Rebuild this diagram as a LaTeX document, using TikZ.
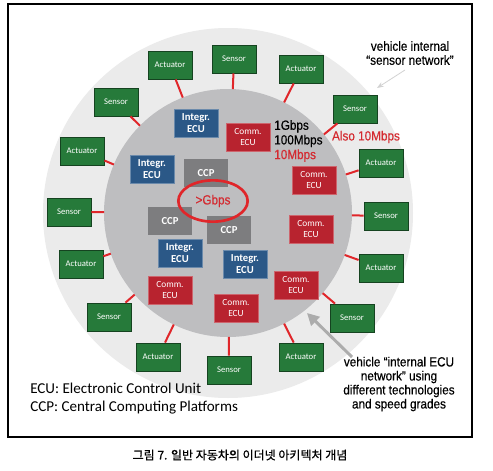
\documentclass[tikz,border=0pt]{standalone}
\usepackage{fontspec}
\usepackage{tikz}
\usetikzlibrary{calc,shapes.geometric,arrows.meta}
\newfontfamily\boxfont{Carlito}
\newfontfamily\notefont{Liberation Sans}[FakeStretch=0.88, FakeBold=0.4]
\newfontfamily\krfont{Noto Sans CJK KR}[FakeBold=0.6]
\definecolor{sensgreen}{HTML}{267A3A}
\definecolor{integblue}{HTML}{2B5887}
\definecolor{commred}{HTML}{B8232F}
\definecolor{ccpgray}{HTML}{7D7D7F}
\definecolor{ringgray}{HTML}{EBEBEB}
\definecolor{coregray}{HTML}{BEBEC0}
\definecolor{linkred}{HTML}{E0262A}
\definecolor{notered}{HTML}{D42A30}
\tikzstyle{unit} = [minimum width=33pt, minimum height=21pt, inner sep=0pt, text=white, align=center]
\tikzstyle{field} = [unit, fill=sensgreen, draw=sensgreen!55!black, line width=0.6pt, font=\boxfont\fontsize{6.5}{7.5}\selectfont]
\tikzstyle{integ} = [unit, fill=integblue, draw=integblue!70!white, line width=0.4pt, font=\boxfont\bfseries\fontsize{8}{8.5}\selectfont]
\tikzstyle{comm} = [unit, fill=commred, draw=commred!70!white, line width=0.4pt, font=\boxfont\fontsize{7}{8.5}\selectfont]
\tikzstyle{ccp} = [unit, fill=ccpgray, font=\boxfont\bfseries\fontsize{8}{8.5}\selectfont]
\tikzstyle{link} = [draw=linkred, line width=1.5pt]
\tikzstyle{note} = [align=center, inner sep=0pt, font=\notefont\fontsize{10}{10.5}\selectfont]
\tikzstyle{legend} = [anchor=base west, inner sep=0pt, font=\boxfont\fontsize{11.3}{13.5}\selectfont]

\begin{document}
\begin{tikzpicture}[x=0.75pt, y=-0.75pt]
\path[use as bounding box, fill=white] (0,0) rectangle (493,471);
\draw[line width=0.8pt] (8,4) rectangle (472,437);

\coordinate (hub) at (228,213);
\fill[ringgray] (hub) circle [radius=185];
\fill[coregray] (hub) circle [radius=124];

% sensor network ring
\node[field] (a1) at (170,65) {Actuator}; \node[field] (s1) at (234,59) {Sensor};
\node[field] (a2) at (301,69) {Actuator}; \node[field] (s2) at (355,109) {Sensor};
\node[field] (a3) at (381,163) {Actuator}; \node[field] (s3) at (386,216) {Sensor};
\node[field] (a4) at (381,268) {Actuator}; \node[field] (s4) at (352,318) {Sensor};
\node[field] (a5) at (301,357) {Actuator}; \node[field] (s5) at (229,370) {Sensor};
\node[field] (a6) at (158,357) {Actuator}; \node[field] (s6) at (109,317) {Sensor};
\node[field] (a7) at (81,264) {Actuator}; \node[field] (s7) at (69,212) {Sensor};
\node[field] (a8) at (82,151) {Actuator}; \node[field] (s8) at (116,102) {Sensor};

\draw[link] (a1) -- ($(hub)!93pt!(a1)$); \draw[link] (s1) -- ($(hub)!93pt!(s1)$);
\draw[link] (a2) -- ($(hub)!93pt!(a2)$); \draw[link] (s2) -- ($(hub)!93pt!(s2)$);
\draw[link] (a3) -- ($(hub)!93pt!(a3)$); \draw[link] (s3) -- ($(hub)!93pt!(s3)$);
\draw[link] (a4) -- ($(hub)!93pt!(a4)$); \draw[link] (s4) -- ($(hub)!93pt!(s4)$);
\draw[link] (a5) -- ($(hub)!93pt!(a5)$); \draw[link] (s5) -- ($(hub)!93pt!(s5)$);
\draw[link] (a6) -- ($(hub)!93pt!(a6)$); \draw[link] (s6) -- ($(hub)!93pt!(s6)$);
\draw[link] (a7) -- ($(hub)!93pt!(a7)$); \draw[link] (s7) -- ($(hub)!93pt!(s7)$);
\draw[link] (a8) -- ($(hub)!93pt!(a8)$); \draw[link] (s8) -- ($(hub)!93pt!(s8)$);

% ECU network core
\node[integ] (i1) at (196,123) {Integr.\\ECU}; \node[integ] (i2) at (152,169) {Integr.\\ECU};
\node[integ] (i3) at (180,253) {Integr.\\ECU}; \node[integ] (i4) at (245,264) {Integr.\\ECU};
\node[ccp] (c1) at (206,173) {CCP}; \node[ccp] (c2) at (170,221) {CCP}; \node[ccp] (c3) at (229,230) {CCP};
\node[comm] (m1) at (248,137) {Comm.\\ECU}; \node[comm] (m2) at (314,180) {Comm.\\ECU};
\node[comm] (m3) at (311,229) {Comm.\\ECU}; \node[comm] (m4) at (296,285) {Comm.\\ECU};
\node[comm] (m5) at (236,308) {Comm.\\ECU}; \node[comm] (m6) at (170,290) {Comm.\\ECU};

\node[ellipse, draw=linkred, line width=2pt, minimum width=52pt, minimum height=31pt, inner sep=0pt,
  text=notered, font=\notefont\fontsize{10}{10}\selectfont] (gbps) at (213,201) {>Gbps};
\node[anchor=west, align=left, inner sep=0pt, font=\notefont\fontsize{10}{11}\selectfont] (speeds) at (274,141)
  {1Gbps\\100Mbps\\\textcolor{notered}{10Mbps}};
\node[note, text=notered] (also) at (366,137) {Also 10Mbps};

% annotations
\node[note] (sensnet) at (410,53) {vehicle internal\\“sensor network”};
\node[note] (ecunet) at (399,384) {vehicle “internal ECU\\network” using\\different technologies\\and speed grades};
\coordinate (sntail) at (405,70); \coordinate (snhead) at (377,88);
\draw[gray!35, line width=0.6pt, -{Stealth[length=5pt]}] (sntail) -- (snhead);
\coordinate (ecutail) at (352,357); \coordinate (ecuhead) at (307,313);
\draw[gray!65, line width=2.2pt, -{Triangle[length=9pt, width=9pt]}] (ecutail) -- (ecuhead);

\node[legend] (leg1) at (30,393) {ECU: Electronic Control Unit};
\node[legend] (leg2) at (30,411) {CCP: Central Computing Platforms};

\node[font=\krfont\fontsize{9}{9}\selectfont] (caption) at (240,455) {그림 7. 일반 자동차의 이더넷 아키텍처 개념};
\end{tikzpicture}
\end{document}
